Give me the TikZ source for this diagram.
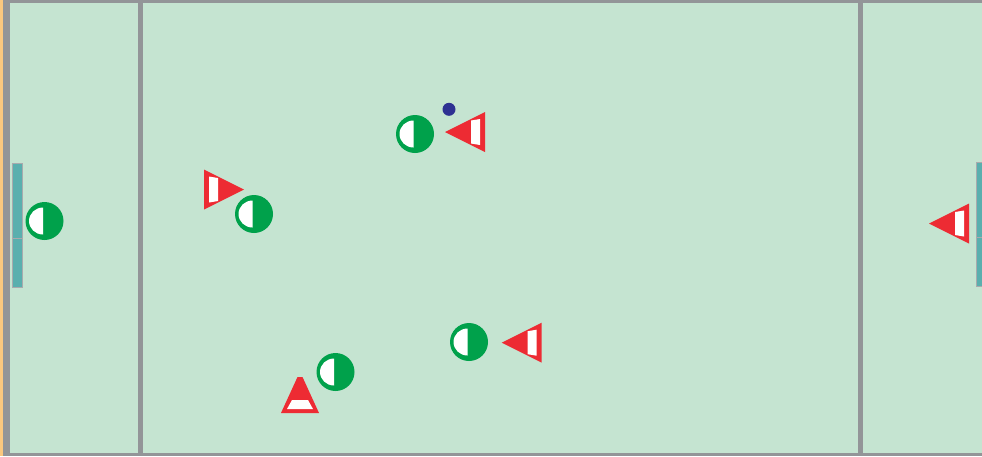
\documentclass[tikz,border=0pt]{standalone}
\definecolor{field}{HTML}{C5E4D1}
\definecolor{lineg}{HTML}{939598}
\definecolor{edgeo}{HTML}{FBC87F}
\definecolor{pgreen}{HTML}{00A14B}
\definecolor{pred}{HTML}{ED2B33}
\definecolor{goalc}{HTML}{5AAFAE}
\definecolor{ballc}{HTML}{2E3192}
\tikzset{
  player/.pic={
    \fill[pgreen] (0,0) circle (19pt);
    \fill[white] (-1.5,-13.5) arc[start angle=90, end angle=270, x radius=14pt, y radius=13.5pt] -- cycle;
  },
  opponent/.pic={
    \fill[pred] (20,0) -- (-20,-20) -- (-20,20) -- cycle;
    \fill[white] (-15,-13) -- (-6,-11.5) -- (-6,11.5) -- (-15,13) -- cycle;
  },
  cone/.pic={
    \fill[pred] (-2.5,-18) -- (2.5,-18) -- (19,18) -- (-19,18) -- cycle;
    \fill[white] (-8,5) -- (8,5) -- (13,14) -- (-13,14) -- cycle;
  },
  goalbox/.style={fill=goalc, draw=lineg!80, line width=0.6pt},
  fieldline/.style={fill=lineg},
}
\begin{document}
\begin{tikzpicture}[x=1pt,y=-1pt]
\useasboundingbox (0,0) rectangle (982,456);
% field
\fill[edgeo] (0,0) rectangle (3,456);
\fill[field] (3,0) rectangle (982,456);
\fill[fieldline] (3,0) rectangle (10,456);
\fill[fieldline] (3,0) rectangle (982,3);
\fill[fieldline] (3,452.5) rectangle (982,456);
\fill[fieldline] (138,0) rectangle (143,456);
\fill[fieldline] (857.5,0) rectangle (862.5,456);
% goals
\draw[goalbox] (12,163) rectangle (22,287);
\draw[lineg!80, line width=0.6pt] (12,238) -- (22,238);
\draw[goalbox] (976,162) rectangle (986,286);
\draw[lineg!80, line width=0.6pt] (976,237) -- (986,237);
% green team
\pic (gk) at (44.5,221) {player};
\pic (g1) at (415,134) {player};
\pic (g2) at (254,214) {player};
\pic (g3) at (335.5,372) {player};
\pic (g4) at (469,342) {player};
% red team
\pic[rotate=180] (r1) at (465,132) {opponent};
\pic (r2) at (224,189.5) {opponent};
\pic[rotate=180] (r3) at (521.7,342.7) {opponent};
\pic[rotate=180] (rk) at (949,223.5) {opponent};
\pic (r4) at (300,395) {cone};
% ball
\fill[ballc] (449,109.3) circle (6.5pt);
\coordinate (ball) at (449,109.3);
\end{tikzpicture}
\end{document}
